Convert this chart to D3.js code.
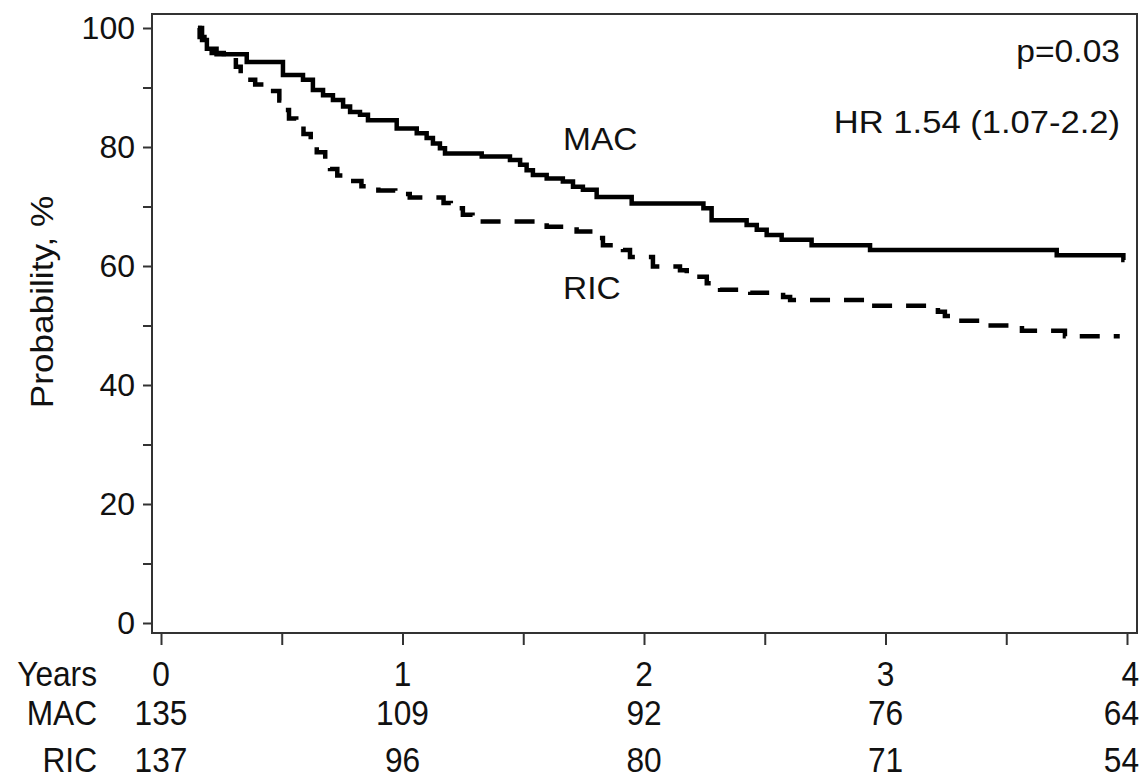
<!DOCTYPE html>
<html>
<head>
<meta charset="utf-8">
<script src="https://cdn.jsdelivr.net/npm/d3@7"></script>
<style>
  body { margin: 0; background: #fff; }
  svg { display: block; font-family: "Liberation Sans", Arial, sans-serif; }
</style>
</head>
<body>
<svg id="chart"></svg>
<script>
// survival curves (years, % surviving)
const macTime = [0.153, 0.17, 0.19, 0.23, 0.355, 0.505, 0.588, 0.629, 0.671, 0.712, 0.754, 0.783, 0.824, 0.857,
  0.976, 1.059, 1.100, 1.126, 1.155, 1.176, 1.328, 1.445, 1.487, 1.514, 1.540, 1.597, 1.664, 1.706, 1.747,
  1.804, 1.949, 2.246, 2.280, 2.425, 2.467, 2.508, 2.570, 2.694, 2.936, 3.709, 3.985, 3.99];
const macSurv = [100, 98, 96.5, 95.6, 94.3, 92.1, 91.3, 89.6, 88.7, 87.9, 86.8, 85.9, 85.4, 84.5,
  83.1, 82.3, 81.5, 80.6, 79.8, 78.9, 78.4, 77.8, 77.0, 76.1, 75.3, 74.7, 74.2, 73.3, 72.8,
  71.6, 70.5, 69.7, 67.7, 66.9, 66.1, 65.2, 64.4, 63.5, 62.7, 61.8, 61.0, 61.0];

const ricTime = [0.153, 0.16, 0.18, 0.21, 0.26, 0.31, 0.33, 0.35, 0.39, 0.43, 0.49, 0.51, 0.53, 0.56, 0.59,
  0.62, 0.645, 0.68, 0.70, 0.73, 0.78, 0.83, 0.90, 0.97, 1.03, 1.17, 1.20, 1.25, 1.29, 1.597, 1.721,
  1.804, 1.83, 1.913, 1.942, 2.037, 2.149, 2.177, 2.26, 2.286, 2.315, 2.44, 2.576, 2.605, 2.943,
  3.217, 3.246, 3.288, 3.424, 3.565, 3.743, 3.97];
const ricSurv = [100, 98.5, 97, 95.8, 95.2, 93.5, 92, 91.3, 90.5, 89.4, 87.8, 86.2, 84.8, 83.5, 82.2,
  80.6, 79.1, 77.5, 76.3, 75.2, 74.3, 73.4, 72.7, 72.1, 71.5, 70.6, 69.7, 68.6, 67.5, 66.6, 65.8,
  64.7, 63.5, 62.7, 61.5, 59.9, 59.3, 58.2, 57.1, 56.5, 56.0, 55.5, 54.8, 54.3, 53.3,
  52.3, 51.6, 50.8, 50.0, 49.1, 48.2, 48.2];

// numbers at risk
const riskYears = [0, 1, 2, 3, 4];
const macRisk = [135, 109, 92, 76, 64];
const ricRisk = [137, 96, 80, 71, 54];

const yTicks = [0, 10, 20, 30, 40, 50, 60, 70, 80, 90, 100];
const xTicks = [0, 0.5, 1, 1.5, 2, 2.5, 3, 3.5, 4];

const width = 1143, height = 779;
const frame = {left: 152, right: 1137, top: 14, bottom: 633};

const svg = d3.select('#chart')
    .attr('width', width)
    .attr('height', height);

const x = d3.scaleLinear().domain([0, 4]).range([161, 1127]);
const y = d3.scaleLinear().domain([0, 100]).range([623, 28]);

// text helper with horizontal stretch
function label(str, px, py, size, anchor, sx) {
    return svg.append('text')
        .attr('transform', `translate(${px},${py}) scale(${sx || 1},1)`)
        .attr('text-anchor', anchor || 'start')
        .style('font-size', size + 'px')
        .attr('fill', '#111')
        .text(str);
}

// y axis
const yAxis = svg.append('g')
    .attr('transform', `translate(${frame.left},0)`)
    .call(d3.axisLeft(y).tickValues(yTicks).tickSize(9).tickPadding(8)
        .tickFormat(d => d % 20 === 0 ? d : ''));
yAxis.select('.domain').remove();
yAxis.selectAll('line').attr('stroke', '#333').attr('stroke-width', 2);
yAxis.selectAll('text').style('font-size', '32px').attr('fill', '#111')
    .style('font-family', '"Liberation Sans", Arial, sans-serif');

// x axis (ticks only)
const xAxis = svg.append('g')
    .attr('transform', `translate(0,${frame.bottom})`)
    .call(d3.axisBottom(x).tickValues(xTicks).tickSize(12).tickFormat(''));
xAxis.select('.domain').remove();
xAxis.selectAll('line').attr('stroke', '#333').attr('stroke-width', 2);

// frame
svg.append('rect')
    .attr('x', frame.left).attr('y', frame.top)
    .attr('width', frame.right - frame.left)
    .attr('height', frame.bottom - frame.top)
    .attr('fill', 'none')
    .attr('stroke', '#333')
    .attr('stroke-width', 2);

// curves
const line = d3.line()
    .x(d => x(d[0]))
    .y(d => y(d[1]))
    .curve(d3.curveStepAfter);

svg.append('path')
    .datum(d3.zip(macTime, macSurv))
    .attr('d', line)
    .attr('fill', 'none')
    .attr('stroke', '#000')
    .attr('stroke-width', 4.5);

svg.append('path')
    .datum(d3.zip(ricTime, ricSurv))
    .attr('d', line)
    .attr('fill', 'none')
    .attr('stroke', '#000')
    .attr('stroke-width', 4.5)
    .attr('stroke-dasharray', '20,14');

// annotations
label('p=0.03', 1120, 62, 32, 'end', 1.05);
label('HR 1.54 (1.07-2.2)', 1120, 133, 32, 'end', 1.08);
label('MAC', 563, 150, 31, 'start', 1.08);
label('RIC', 563, 299, 31, 'start', 1.08);

// y label
svg.append('text')
    .attr('transform', `translate(53,302) rotate(-90) scale(1.1,1)`)
    .attr('text-anchor', 'middle')
    .style('font-size', '32px')
    .attr('fill', '#111')
    .text('Probability, %');

// risk table
const rowY = [686, 725, 772];
const tsx = 0.88;
label('Years', 97, rowY[0], 36, 'end', tsx);
label('MAC', 97, rowY[1], 36, 'end', tsx);
label('RIC', 97, rowY[2], 36, 'end', tsx);

riskYears.forEach((t, i) => {
    const last = i === riskYears.length - 1;
    const px = last ? 1139 : x(t);
    const anchor = last ? 'end' : 'middle';
    label(t, px, rowY[0], 36, anchor, tsx);
    label(macRisk[i], px, rowY[1], 36, anchor, tsx);
    label(ricRisk[i], px, rowY[2], 36, anchor, tsx);
});
</script>
</body>
</html>
